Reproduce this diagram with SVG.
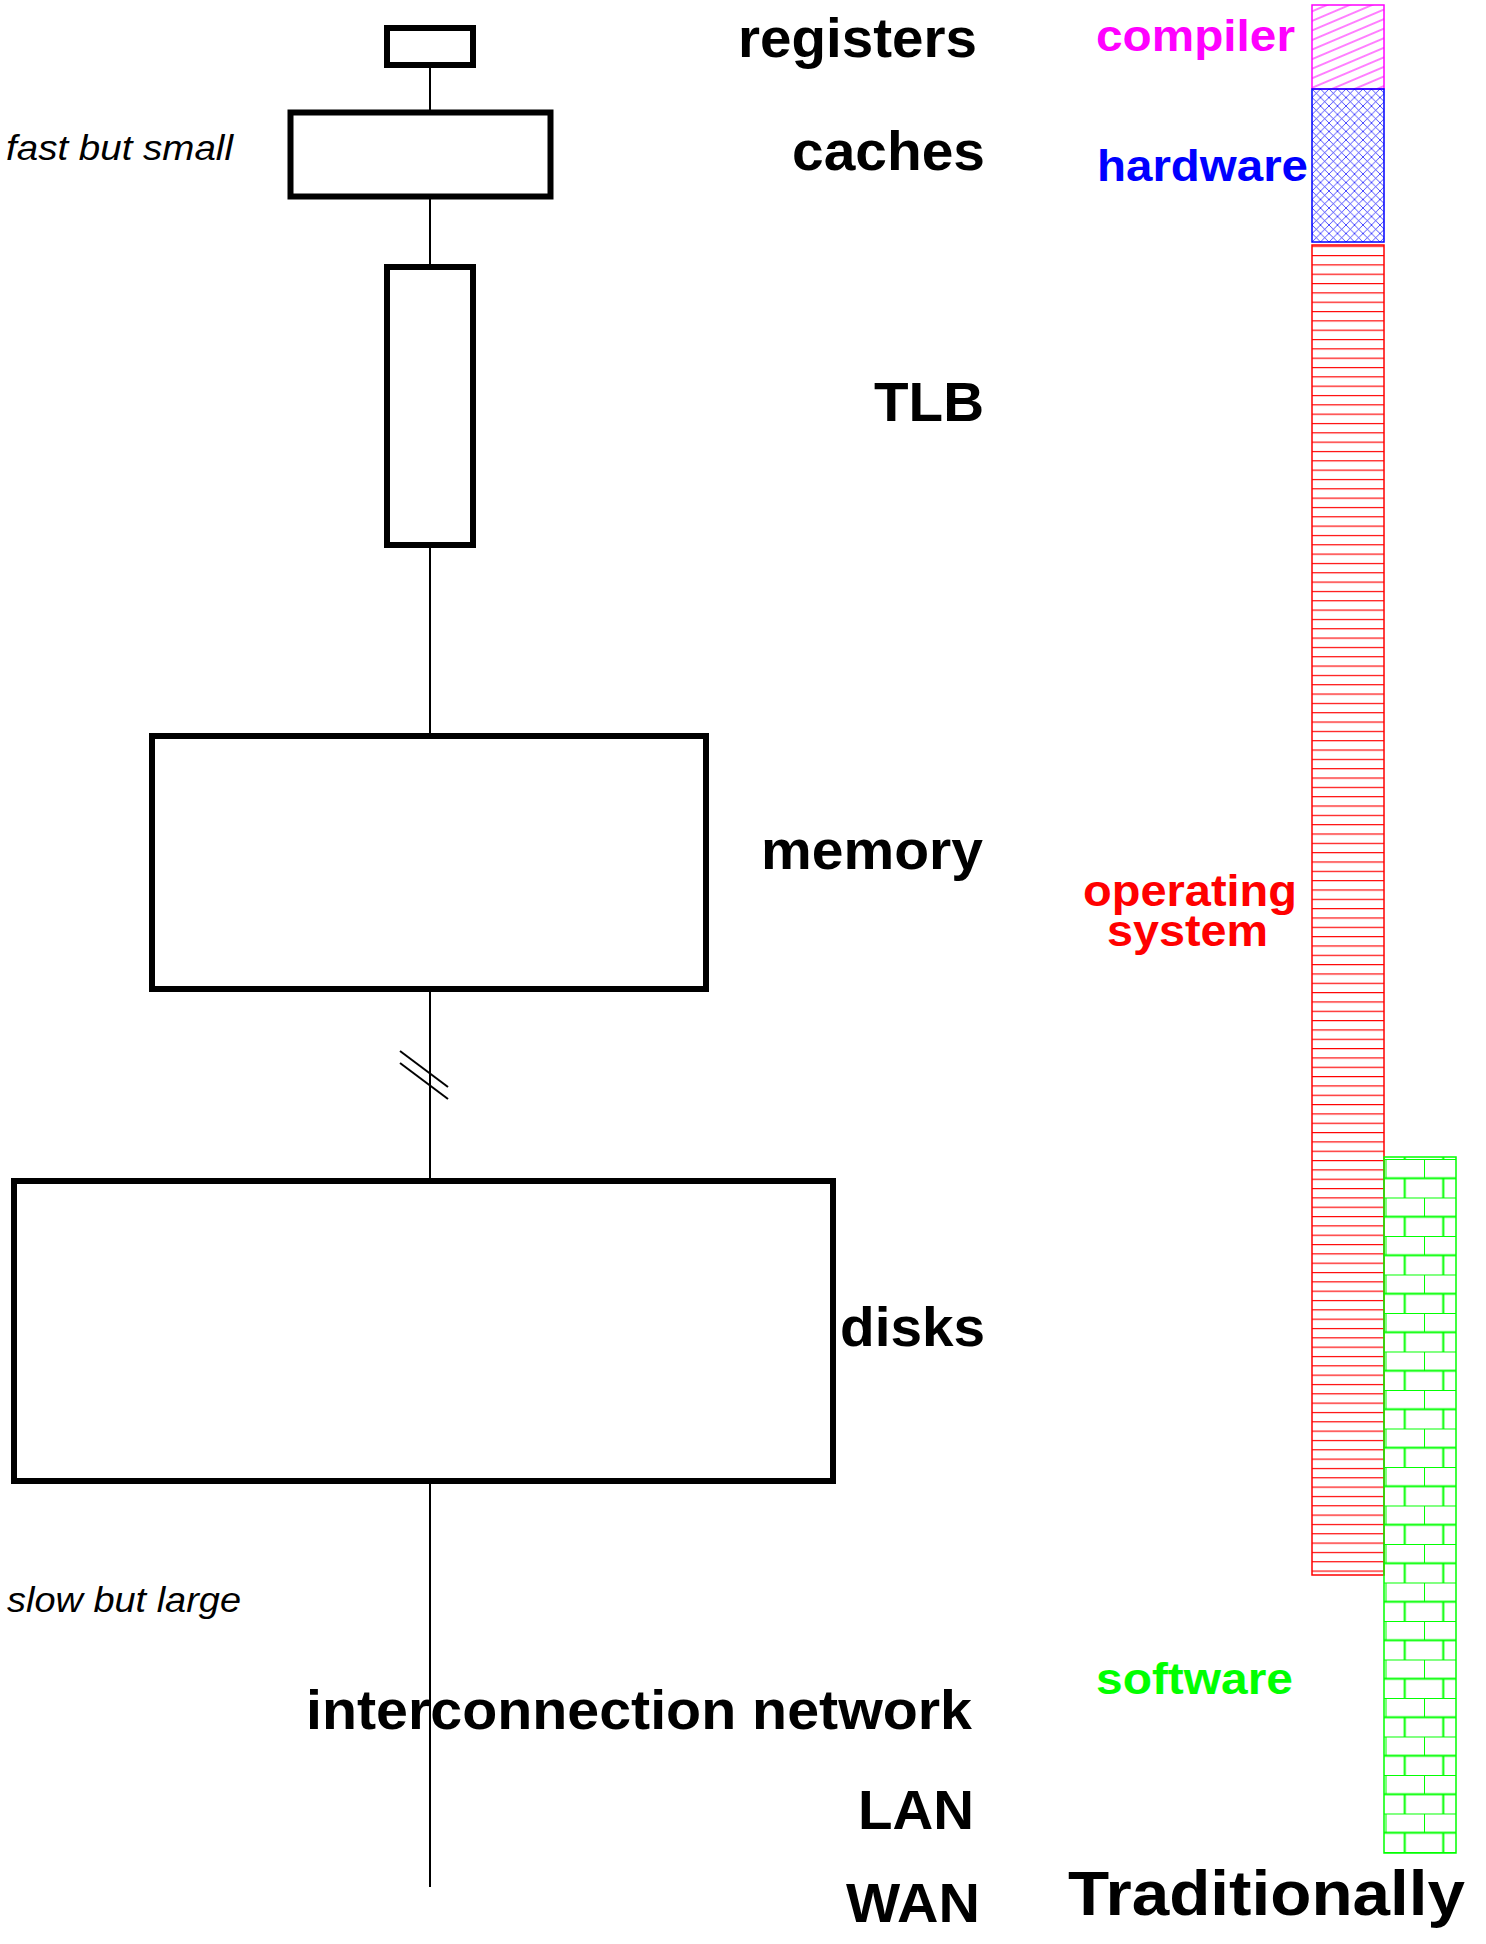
<svg xmlns="http://www.w3.org/2000/svg" width="1486" height="1944" viewBox="0 0 1486 1944">
  <style>
    .box { fill: #ffffff; stroke: #000000; stroke-width: 6; }
    .wire { stroke: #000000; stroke-width: 2; fill: none; }
    .lbl { font-family: "Liberation Sans", Arial, sans-serif; font-weight: bold; font-size: 55px; fill: #000000; }
    .side { font-family: "Liberation Sans", Arial, sans-serif; font-weight: bold; font-size: 45px; }
    .note { font-family: "Liberation Sans", Arial, sans-serif; font-style: italic; font-size: 35px; fill: #000000; }
  </style>
  <defs>
    <!-- slanted hatch for the compiler band -->
    <pattern id="hatchCompiler" patternUnits="userSpaceOnUse" width="40" height="8.8" patternTransform="rotate(-23)">
      <line x1="0" y1="4" x2="40" y2="4" stroke="#ff00ff" stroke-width="1"/>
    </pattern>
    <!-- diagonal crosshatch for the hardware band -->
    <pattern id="hatchHardware" patternUnits="userSpaceOnUse" x="1312" y="89" width="8.5" height="8.5">
      <path d="M0,0 L8.5,8.5 M8.5,0 L0,8.5" stroke="#0000ff" stroke-width="0.7" fill="none"/>
    </pattern>
    <!-- horizontal rules for the operating system band -->
    <pattern id="hatchOS" patternUnits="userSpaceOnUse" x="1312" y="1160" width="69" height="9.33">
      <line x1="0" y1="0.6" x2="69" y2="0.6" stroke="#ff0000" stroke-width="1.3"/>
    </pattern>
    <!-- brick fill for the software band -->
    <pattern id="bricks" patternUnits="userSpaceOnUse" x="1385.5" y="1159" width="38.5" height="38.5">
      <g stroke="#00ff00" stroke-width="2" fill="none">
        <line x1="0" y1="0" x2="38.5" y2="0"/>
        <line x1="0" y1="19.25" x2="38.5" y2="19.25"/>
        <line x1="0" y1="0" x2="0" y2="19.25"/>
        <line x1="19.25" y1="19.25" x2="19.25" y2="38.5"/>
      </g>
    </pattern>
  </defs>

  <rect width="1486" height="1944" fill="#ffffff"/>

  <!-- connectors -->
  <g id="connectors" class="wire">
    <line x1="430" y1="65" x2="430" y2="1887"/>
    <line x1="400" y1="1051" x2="448" y2="1087"/>
    <line x1="400" y1="1063" x2="448" y2="1099"/>
  </g>

  <!-- storage hierarchy -->
  <g id="registers">
    <rect class="box" x="387" y="28" width="86" height="37"/>
    <text class="lbl" x="738" y="57" textLength="239" lengthAdjust="spacingAndGlyphs">registers</text>
  </g>
  <g id="caches">
    <rect class="box" x="290.5" y="112.5" width="260" height="84"/>
    <text class="lbl" x="792" y="170" textLength="193" lengthAdjust="spacingAndGlyphs">caches</text>
  </g>
  <g id="tlb">
    <rect class="box" x="387" y="267" width="86" height="278"/>
    <text class="lbl" x="874" y="421" textLength="110" lengthAdjust="spacingAndGlyphs">TLB</text>
  </g>
  <g id="memory">
    <rect class="box" x="152" y="736" width="554" height="253"/>
    <text class="lbl" x="761" y="869" textLength="222" lengthAdjust="spacingAndGlyphs">memory</text>
  </g>
  <g id="disks">
    <rect class="box" x="14" y="1181" width="819" height="300"/>
    <text class="lbl" x="840" y="1346" textLength="145" lengthAdjust="spacingAndGlyphs">disks</text>
  </g>
  <g id="interconnection-network">
    <text class="lbl" x="306" y="1729" textLength="666" lengthAdjust="spacingAndGlyphs">interconnection network</text>
  </g>
  <g id="lan">
    <text class="lbl" x="858" y="1829" textLength="116" lengthAdjust="spacingAndGlyphs">LAN</text>
  </g>
  <g id="wan">
    <text class="lbl" x="846" y="1922" textLength="134" lengthAdjust="spacingAndGlyphs">WAN</text>
  </g>

  <g id="notes">
    <text class="note" x="6" y="160" textLength="227" lengthAdjust="spacingAndGlyphs">fast but small</text>
    <text class="note" x="7" y="1612" textLength="234" lengthAdjust="spacingAndGlyphs">slow but large</text>
  </g>

  <!-- responsibility bands -->
  <g id="compiler">
    <rect x="1312" y="5" width="72" height="84" fill="url(#hatchCompiler)" stroke="#ff00ff" stroke-width="1.5"/>
    <text class="side" x="1096" y="51" fill="#ff00ff" textLength="199" lengthAdjust="spacingAndGlyphs">compiler</text>
  </g>
  <g id="hardware">
    <rect x="1312" y="89" width="72" height="153" fill="url(#hatchHardware)" stroke="#0000ff" stroke-width="1.5"/>
    <text class="side" x="1097" y="181" fill="#0000ff" textLength="211" lengthAdjust="spacingAndGlyphs">hardware</text>
  </g>
  <g id="operating-system">
    <rect x="1312" y="245" width="72" height="1330" fill="url(#hatchOS)" stroke="#ff0000" stroke-width="1.5"/>
    <text class="side" x="1083" y="906" fill="#ff0000" textLength="214" lengthAdjust="spacingAndGlyphs">operating</text>
    <text class="side" x="1107" y="946" fill="#ff0000" textLength="161" lengthAdjust="spacingAndGlyphs">system</text>
  </g>
  <g id="software">
    <rect x="1384" y="1157" width="72" height="696" fill="url(#bricks)" stroke="#00ff00" stroke-width="1.5"/>
    <text class="side" x="1096" y="1694" fill="#00ff00" textLength="197" lengthAdjust="spacingAndGlyphs">software</text>
  </g>

  <g id="title">
    <text class="lbl" x="1068" y="1915" textLength="397" lengthAdjust="spacingAndGlyphs" style="font-size:63px">Traditionally</text>
  </g>
</svg>
